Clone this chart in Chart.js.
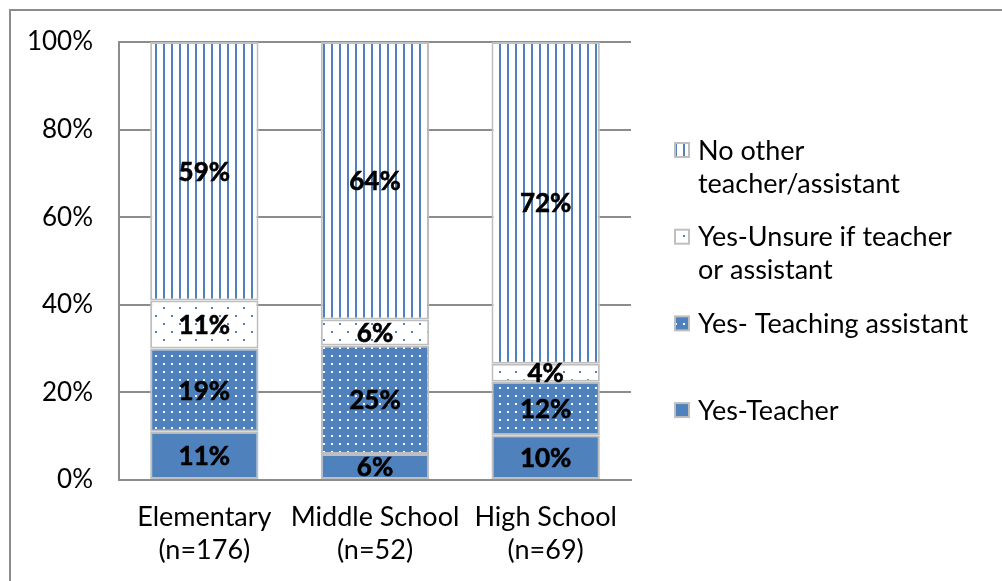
<!DOCTYPE html>
<html>
<head>
<meta charset="utf-8">
<script src="https://cdn.jsdelivr.net/npm/chart.js@4.4.1/dist/chart.umd.min.js"></script>
<style>
  html, body { margin: 0; padding: 0; background: #fff; }
  #wrap { width: 1002px; height: 581px; }
</style>
</head>
<body>
<div id="wrap"><canvas id="chart" width="1002" height="581"></canvas></div>
<script>
// school level groups
const categories = [['Elementary', '(n=176)'], ['Middle School', '(n=52)'], ['High School', '(n=69)']];
// legend names, one line per entry
const seriesNames = [
  ['Yes-Teacher'],
  ['Yes- Teaching assistant'],
  ['Yes-Unsure if teacher', 'or assistant'],
  ['No other', 'teacher/assistant']
];
// percentages per level (bottom to top of the stack)
const yesTeacher = [11, 6, 10];
const yesAssistant = [19, 25, 12];
const yesUnsure = [11, 6, 4];
const noOther = [59, 64, 72];
const yTicks = [0, 20, 40, 60, 80, 100];

const blue = '#4f81bd';
const fontName = 'Lato, "Liberation Sans", sans-serif';

function tile(w, h, bg, fg, dots) {
  const c = document.createElement('canvas');
  c.width = w; c.height = h;
  const g = c.getContext('2d');
  g.fillStyle = bg; g.fillRect(0, 0, w, h);
  g.fillStyle = fg;
  dots.forEach(d => g.fillRect(d[0], d[1], d[2], d[3]));
  return g.createPattern(c, 'repeat');
}

const solidFill = blue;
const dotsOnBlue = tile(8, 8, blue, '#fff', [[3, 3, 2, 2]]);
const dotsOnWhite = tile(16, 16, '#fff', blue, [[3, 3, 2, 2], [11, 11, 2, 2]]);
const stripes = tile(8, 8, '#fff', blue, [[3, 0, 2, 8]]);

const rows = [yesTeacher, yesAssistant, yesUnsure, noOther];
const fills = [solidFill, dotsOnBlue, dotsOnWhite, stripes];

// 100% stacked: each bar is scaled to the sum of its parts
const totals = categories.map((c, i) => rows.reduce((s, r) => s + r[i], 0));

const datasets = rows.map((r, k) => ({
  label: seriesNames[k].join(' '),
  data: r.map((v, i) => v / totals[i] * 100),
  raw: r,
  backgroundColor: fills[k],
  borderColor: '#bfbfbf',
  borderWidth: 2,
  borderSkipped: false,
  barPercentage: 0.635,
  categoryPercentage: 1
}));

const framePlugin = {
  id: 'frame',
  beforeDraw(chart) {
    const c = chart.ctx;
    c.save();
    c.fillStyle = '#fff';
    c.fillRect(0, 0, chart.width, chart.height);
    c.strokeStyle = '#8c8c8c';
    c.lineWidth = 2;
    c.strokeRect(10, 10, chart.width + 50, chart.height + 50);
    c.restore();
  }
};

const valueLabels = {
  id: 'valueLabels',
  afterDatasetsDraw(chart) {
    const c = chart.ctx;
    c.save();
    c.font = 'bold 26px ' + fontName;
    c.fillStyle = '#000';
    c.strokeStyle = '#000';
    c.lineWidth = 0.6;
    c.textAlign = 'center';
    c.textBaseline = 'middle';
    chart.data.datasets.forEach((ds, k) => {
      chart.getDatasetMeta(k).data.forEach((bar, i) => {
        const t = ds.raw[i] + '%';
        const y = (bar.y + bar.base) / 2 + 1;
        c.fillText(t, bar.x, y);
        c.strokeText(t, bar.x, y);
      });
    });
    c.restore();
  }
};

const sideLegend = {
  id: 'sideLegend',
  afterDraw(chart) {
    const c = chart.ctx;
    c.save();
    c.font = '27px ' + fontName;
    c.textBaseline = 'middle';
    const order = [3, 2, 1, 0];
    order.forEach((k, n) => {
      const y = 150 + n * 86.7;
      c.fillStyle = fills[k];
      c.fillRect(675, y - 7, 14, 14);
      c.strokeStyle = '#bfbfbf';
      c.lineWidth = 2;
      c.strokeRect(675, y - 7, 14, 14);
      c.fillStyle = '#000';
      seriesNames[k].forEach((line, j) => c.fillText(line, 698, y + 1 + j * 33));
    });
    c.restore();
  }
};

new Chart(document.getElementById('chart'), {
  type: 'bar',
  data: { labels: categories, datasets: datasets },
  options: {
    responsive: false,
    animation: false,
    layout: { padding: { left: 0, right: 371, top: 42, bottom: 0 } },
    plugins: { legend: { display: false }, tooltip: { enabled: false } },
    scales: {
      x: {
        stacked: true,
        grid: { display: false, drawTicks: false },
        border: { display: true, color: '#8c8c8c', width: 2 },
        ticks: {
          color: '#000',
          font: { family: fontName, size: 27, lineHeight: '33px' },
          padding: 21,
          maxRotation: 0,
          autoSkip: false
        },
        afterFit(s) { s.height = 101; }
      },
      y: {
        stacked: true,
        min: 0,
        max: 100,
        afterBuildTicks(s) { s.ticks = yTicks.map(v => ({ value: v })); },
        grid: { color: '#8c8c8c', lineWidth: 2, drawTicks: false },
        border: { display: true, color: '#8c8c8c', width: 2 },
        ticks: {
          color: '#000',
          font: { family: fontName, size: 26 },
          padding: 26,
          callback: v => v + '%'
        },
        afterFit(s) { s.width = 119; }
      }
    }
  },
  plugins: [framePlugin, valueLabels, sideLegend]
});
</script>
</body>
</html>
